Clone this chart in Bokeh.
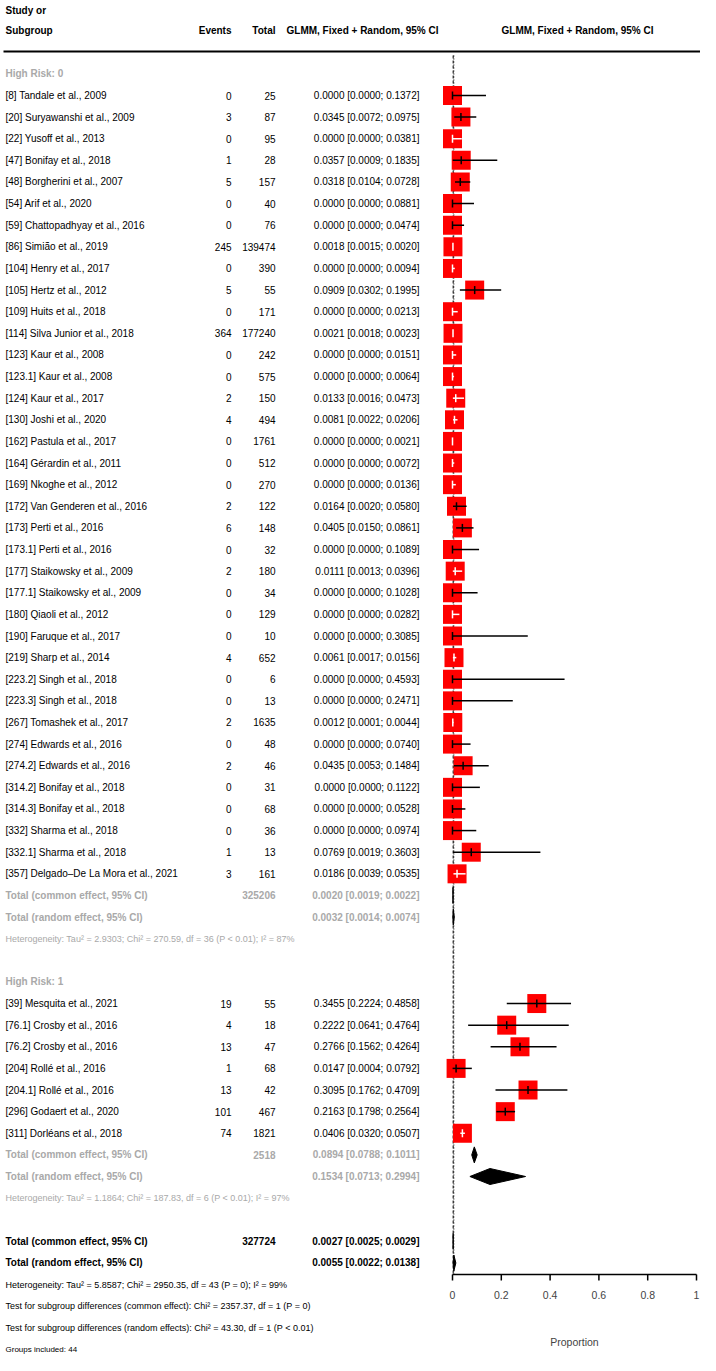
from bokeh.plotting import figure
from bokeh.models import Range1d, LinearAxis, FixedTicker, ColumnDataSource
from bokeh.embed import file_html
from bokeh.resources import INLINE
from bokeh.core.properties import value

# ---------------- data ----------------
hr0_study = [
    "[8] Tandale et al., 2009", "[20] Suryawanshi et al., 2009", "[22] Yusoff et al., 2013",
    "[47] Bonifay et al., 2018", "[48] Borgherini et al., 2007", "[54] Arif et al., 2020",
    "[59] Chattopadhyay et al., 2016", "[86] Simião et al., 2019", "[104] Henry et al., 2017",
    "[105] Hertz et al., 2012", "[109] Huits et al., 2018", "[114] Silva Junior et al., 2018",
    "[123] Kaur et al., 2008", "[123.1] Kaur et al., 2008", "[124] Kaur et al., 2017",
    "[130] Joshi et al., 2020", "[162] Pastula et al., 2017", "[164] Gérardin et al., 2011",
    "[169] Nkoghe et al., 2012", "[172] Van Genderen et al., 2016", "[173] Perti et al., 2016",
    "[173.1] Perti et al., 2016", "[177] Staikowsky et al., 2009", "[177.1] Staikowsky et al., 2009",
    "[180] Qiaoli et al., 2012", "[190] Faruque et al., 2017", "[219] Sharp et al., 2014",
    "[223.2] Singh et al., 2018", "[223.3] Singh et al., 2018", "[267] Tomashek et al., 2017",
    "[274] Edwards et al., 2016", "[274.2] Edwards et al., 2016", "[314.2] Bonifay et al., 2018",
    "[314.3] Bonifay et al., 2018", "[332] Sharma et al., 2018", "[332.1] Sharma et al., 2018",
    "[357] Delgado\u2013De La Mora et al., 2021",
]
hr0_events = [0, 3, 0, 1, 5, 0, 0, 245, 0, 5, 0, 364, 0, 0, 2, 4, 0, 0, 0, 2, 6, 0, 2, 0,
              0, 0, 4, 0, 0, 2, 0, 2, 0, 0, 0, 1, 3]
hr0_total = [25, 87, 95, 28, 157, 40, 76, 139474, 390, 55, 171, 177240, 242, 575, 150, 494,
             1761, 512, 270, 122, 148, 32, 180, 34, 129, 10, 652, 6, 13, 1635, 48, 46, 31, 68,
             36, 13, 161]
hr0_est = [0.0000, 0.0345, 0.0000, 0.0357, 0.0318, 0.0000, 0.0000, 0.0018, 0.0000, 0.0909,
           0.0000, 0.0021, 0.0000, 0.0000, 0.0133, 0.0081, 0.0000, 0.0000, 0.0000, 0.0164,
           0.0405, 0.0000, 0.0111, 0.0000, 0.0000, 0.0000, 0.0061, 0.0000, 0.0000, 0.0012,
           0.0000, 0.0435, 0.0000, 0.0000, 0.0000, 0.0769, 0.0186]
hr0_lower = [0.0000, 0.0072, 0.0000, 0.0009, 0.0104, 0.0000, 0.0000, 0.0015, 0.0000, 0.0302,
             0.0000, 0.0018, 0.0000, 0.0000, 0.0016, 0.0022, 0.0000, 0.0000, 0.0000, 0.0020,
             0.0150, 0.0000, 0.0013, 0.0000, 0.0000, 0.0000, 0.0017, 0.0000, 0.0000, 0.0001,
             0.0000, 0.0053, 0.0000, 0.0000, 0.0000, 0.0019, 0.0039]
hr0_upper = [0.1372, 0.0975, 0.0381, 0.1835, 0.0728, 0.0881, 0.0474, 0.0020, 0.0094, 0.1995,
             0.0213, 0.0023, 0.0151, 0.0064, 0.0473, 0.0206, 0.0021, 0.0072, 0.0136, 0.0580,
             0.0861, 0.1089, 0.0396, 0.1028, 0.0282, 0.3085, 0.0156, 0.4593, 0.2471, 0.0044,
             0.0740, 0.1484, 0.1122, 0.0528, 0.0974, 0.3603, 0.0535]

hr1_study = [
    "[39] Mesquita et al., 2021", "[76.1] Crosby et al., 2016", "[76.2] Crosby et al., 2016",
    "[204] Rollé et al., 2016", "[204.1] Rollé et al., 2016", "[296] Godaert et al., 2020",
    "[311] Dorléans et al., 2018",
]
hr1_events = [19, 4, 13, 1, 13, 101, 74]
hr1_total = [55, 18, 47, 68, 42, 467, 1821]
hr1_est = [0.3455, 0.2222, 0.2766, 0.0147, 0.3095, 0.2163, 0.0406]
hr1_lower = [0.2224, 0.0641, 0.1562, 0.0004, 0.1762, 0.1798, 0.0320]
hr1_upper = [0.4858, 0.4764, 0.4264, 0.0792, 0.4709, 0.2564, 0.0507]

group_labels = ["High Risk: 0", "High Risk: 1"]
sub_total_n = [325206, 2518]
sub_common_est = [0.0020, 0.0894]
sub_common_lower = [0.0019, 0.0788]
sub_common_upper = [0.0022, 0.1011]
sub_random_est = [0.0032, 0.1534]
sub_random_lower = [0.0014, 0.0713]
sub_random_upper = [0.0074, 0.2994]
sub_het = [
    "Heterogeneity: Tau\u00b2 = 2.9303; Chi\u00b2 = 270.59, df = 36 (P < 0.01); I\u00b2 = 87%",
    "Heterogeneity: Tau\u00b2 = 1.1864; Chi\u00b2 = 187.83, df = 6 (P < 0.01); I\u00b2 = 97%",
]
overall_n = 327724
overall_common = [0.0027, 0.0025, 0.0029]
overall_random = [0.0055, 0.0022, 0.0138]
overall_notes = [
    "Heterogeneity: Tau\u00b2 = 5.8587; Chi\u00b2 = 2950.35, df = 43 (P = 0); I\u00b2 = 99%",
    "Test for subgroup differences (common effect): Chi\u00b2 = 2357.37, df = 1 (P = 0)",
    "Test for subgroup differences (random effects): Chi\u00b2 = 43.30, df = 1 (P < 0.01)",
    "Groups included:  44",
]
tick_values = [0, 0.2, 0.4, 0.6, 0.8, 1]
tick_labels = ["0", "0.2", "0.4", "0.6", "0.8", "1"]
axis_title = "Proportion"
col_headers = ["Events", "Total", "GLMM, Fixed + Random, 95% CI"]

# ---------------- layout ----------------
W, H = 700, 1355
ROW0, ROW_H = 95.0, 21.62     # px of first study row, row pitch
X0, SC = 452.0, 244.0         # px of proportion 0, px per unit
AXIS_Y = 1274
FONT = "Liberation Sans"
GRAY = "#A9A9A9"
SQ = 19
HALF = SQ / 2.0
TICK = 4.0 / ROW_H
DIA = 8.0 / ROW_H
AX_TICK = 6.0 / ROW_H


def xd(px):
    return (px - X0) / SC


def yd(py):
    return (py - ROW0) / ROW_H


X_LABEL = xd(5)
X_EVENTS = xd(231)
X_TOTAL = xd(275)
X_CI = xd(419)

p = figure(width=W, height=H, output_backend="svg", toolbar_location=None,
           x_range=Range1d(xd(0), xd(W)), y_range=Range1d(yd(H), yd(0)),
           x_axis_location=None, y_axis_location=None,
           min_border_left=0, min_border_right=0, min_border_top=0, min_border_bottom=0,
           outline_line_color=None, background_fill_color="white", border_fill_color="white")
p.grid.visible = False

texts = []


def T(x, y, t, align="left", bold=False, color="black", size="10px"):
    texts.append((x, y, t, align, bold, color, size))


def ci_txt(e, l, u):
    return f"{e:.4f} [{l:.4f}; {u:.4f}]"


# header
T(X_LABEL, yd(10), "Study or", bold=True)
T(X_LABEL, yd(30), "Subgroup", bold=True)
T(X_EVENTS, yd(30), col_headers[0], align="right", bold=True)
T(X_TOTAL, yd(30), col_headers[1], align="right", bold=True)
T(xd(362), yd(30), col_headers[2], align="center", bold=True)
T(xd(577), yd(30), col_headers[2], align="center", bold=True)
p.segment(x0=[xd(3)], x1=[xd(W)], y0=[yd(51)], y1=[yd(51)], line_color="black", line_width=2)

st = dict(est=[], lo=[], hi=[], row=[])
dia_xs, dia_ys = [], []


def diamond(e, l, u, r_):
    dia_xs.append([l, e, u, e])
    dia_ys.append([r_, r_ - DIA, r_, r_ + DIA])


groups = [
    (hr0_study, hr0_events, hr0_total, hr0_est, hr0_lower, hr0_upper),
    (hr1_study, hr1_events, hr1_total, hr1_est, hr1_lower, hr1_upper),
]
r = -1
for g, (names, ev, tot, es, lo, hi) in enumerate(groups):
    T(X_LABEL, r, group_labels[g], bold=True, color=GRAY)
    r += 1
    for i in range(len(names)):
        T(X_LABEL, r, names[i])
        T(X_EVENTS, r, str(ev[i]), align="right")
        T(X_TOTAL, r, str(tot[i]), align="right")
        T(X_CI, r, ci_txt(es[i], lo[i], hi[i]), align="right")
        st["est"].append(es[i]); st["lo"].append(lo[i]); st["hi"].append(hi[i]); st["row"].append(r)
        r += 1
    T(X_LABEL, r, "Total (common effect, 95% CI)", bold=True, color=GRAY)
    T(X_TOTAL, r, str(sub_total_n[g]), align="right", bold=True, color=GRAY)
    T(X_CI, r, ci_txt(sub_common_est[g], sub_common_lower[g], sub_common_upper[g]),
      align="right", bold=True, color=GRAY)
    diamond(sub_common_est[g], sub_common_lower[g], sub_common_upper[g], r)
    r += 1
    T(X_LABEL, r, "Total (random effect, 95% CI)", bold=True, color=GRAY)
    T(X_CI, r, ci_txt(sub_random_est[g], sub_random_lower[g], sub_random_upper[g]),
      align="right", bold=True, color=GRAY)
    diamond(sub_random_est[g], sub_random_lower[g], sub_random_upper[g], r)
    r += 1
    T(X_LABEL, r, sub_het[g], color=GRAY, size="9px")
    r += 2

T(X_LABEL, r, "Total (common effect, 95% CI)", bold=True)
T(X_TOTAL, r, str(overall_n), align="right", bold=True)
T(X_CI, r, ci_txt(*overall_common), align="right", bold=True)
diamond(*overall_common, r)
r += 1
T(X_LABEL, r, "Total (random effect, 95% CI)", bold=True)
T(X_CI, r, ci_txt(*overall_random), align="right", bold=True)
diamond(*overall_random, r)
r += 1
for k, t in enumerate(overall_notes):
    T(X_LABEL, r + k, t, size="8px" if k == len(overall_notes) - 1 else "9px")

# reference lines (common: dashed, random: dotted)
p.segment(x0=[overall_common[0]], x1=[overall_common[0]], y0=[yd(55)], y1=[yd(AXIS_Y)],
          line_color="black", line_width=1, line_dash="3 2")
p.segment(x0=[overall_random[0]], x1=[overall_random[0]], y0=[yd(55)], y1=[yd(AXIS_Y)],
          line_color="black", line_width=1, line_dash="1 2")

# study squares + CIs
src = ColumnDataSource(st)
p.scatter(x="est", y="row", source=src, marker="square", size=SQ,
          fill_color="#FF0000", line_color=None)
ci_col = []
for e, l, u in zip(st["est"], st["lo"], st["hi"]):
    inside = (l >= e - HALF / SC) and (u <= e + HALF / SC)
    ci_col.append("white" if inside else "black")
src.data["col"] = ci_col
src.data["t0"] = [y - TICK for y in st["row"]]
src.data["t1"] = [y + TICK for y in st["row"]]
p.segment(x0="lo", x1="hi", y0="row", y1="row", source=src, line_color="col", line_width=1.5)
p.segment(x0="est", x1="est", y0="t0", y1="t1", source=src, line_color="col", line_width=1.5)

# diamonds
p.patches(xs=dia_xs, ys=dia_ys, fill_color="black", line_color="black", line_width=1)

# texts
groups_t = {}
for x, y, t, a, b, c, s in texts:
    groups_t.setdefault((a, b, c, s), []).append((x, y, t))
for (a, b, c, s), items in groups_t.items():
    p.text(x=[i[0] for i in items], y=[i[1] for i in items], text=[i[2] for i in items],
           text_align=a, text_baseline="middle", text_color=c, text_font=value(FONT),
           text_font_size=s, text_font_style="bold" if b else "normal")

# x axis: library axis fixed inside the frame (labels + title);
# rule and tick marks drawn from the same tick values
axis_row = yd(AXIS_Y)
p.segment(x0=[tick_values[0]], x1=[tick_values[-1]], y0=[axis_row], y1=[axis_row],
          line_color="black", line_width=1.5)
p.segment(x0=tick_values, x1=tick_values, y0=[axis_row] * len(tick_values),
          y1=[axis_row + AX_TICK] * len(tick_values), line_color="black", line_width=1.5)

ax = LinearAxis(ticker=FixedTicker(ticks=tick_values), bounds=(0, 1),
                major_label_overrides={v: l for v, l in zip(tick_values, tick_labels)},
                axis_label=axis_title, fixed_location=axis_row)
ax.axis_line_color = None
ax.major_tick_line_color = None
ax.minor_tick_line_color = None
ax.major_tick_out = 6
ax.major_tick_in = 0
ax.major_label_standoff = 10
ax.major_label_text_font = FONT
ax.major_label_text_font_size = "10.5px"
ax.axis_label_text_font = FONT
ax.axis_label_text_font_size = "10.5px"
ax.axis_label_text_font_style = "normal"
ax.axis_label_standoff = 34
p.add_layout(ax, "below")

open("out.html", "w").write(file_html(p, INLINE))
